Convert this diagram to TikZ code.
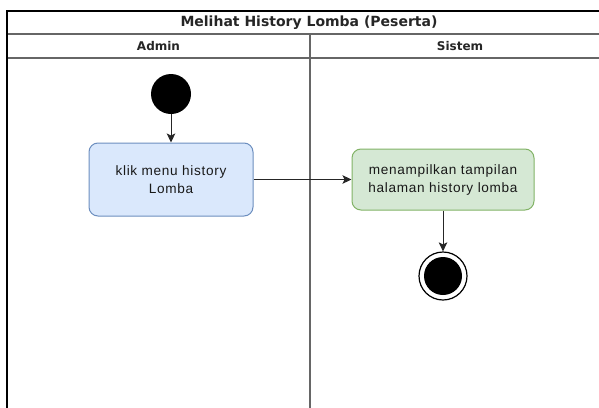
\documentclass[tikz,border=0pt]{standalone}
\usepackage{fontspec}
\setmainfont{Liberation Sans}
\newfontfamily\headfont{DejaVu Sans}
\newfontfamily\bodyfont{Liberation Sans}[LetterSpace=5]
\usetikzlibrary{arrows.meta}
\definecolor{bluefill}{HTML}{DAE8FC}
\definecolor{blueline}{HTML}{6C8EBF}
\definecolor{greenfill}{HTML}{D5E8D4}
\definecolor{greenline}{HTML}{82B366}
\tikzset{
  poolline/.style={draw=black, line width=1.2pt},
  laneline/.style={draw=black!60, line width=1.3pt},
  headtext/.style={font=\headfont\bfseries\fontsize{12}{14}\selectfont, text=black!85, inner sep=0pt},
  titletext/.style={font=\headfont\bfseries\fontsize{14}{16}\selectfont, text=black!85, inner sep=0pt},
  action/.style={rounded corners=9pt, line width=1pt, align=center,
    font=\bodyfont\fontsize{13.6}{18}\selectfont, text=black!90, inner sep=0pt},
  flow/.style={draw=black!85, line width=1pt, -{Stealth[length=9pt,width=8.5pt,inset=2pt]}},
}
\begin{document}
\begin{tikzpicture}[x=1pt,y=-1pt]
\useasboundingbox (0,0) rectangle (599,407);
\clip (0,0) rectangle (599,407);
\fill[white] (0,0) rectangle (599,407);
% swimlane frame
\draw[laneline] (7,34) -- (620,34);
\draw[laneline] (7,58) -- (620,58);
\draw[laneline] (310,34) -- (310,420);
\draw[poolline] (7,420) -- (7,11) -- (620,11);
% headings
\node[titletext] (title) at (309,22.5) {Melihat History Lomba (Peserta)};
\node[headtext] (adm) at (158.5,46) {Admin};
\node[headtext] (sys) at (460,46) {Sistem};
% activities
\node[circle, fill=black, minimum size=40pt, inner sep=0pt] (start) at (171,94) {};
\node[action, draw=blueline, fill=bluefill, minimum width=164pt, minimum height=73pt]
  (klik) at (171,179.5) {klik menu history\\Lomba};
\node[action, draw=greenline, fill=greenfill, minimum width=182pt, minimum height=61pt]
  (tampil) at (443,179.5) {menampilkan tampilan\\halaman history lomba};
\node[circle, draw=black, line width=1.2pt, minimum size=48pt, inner sep=0pt] (end) at (443,276) {};
\fill[black] (end.center) circle (19pt);
% flows
\draw[flow] (start) -- (klik);
\draw[flow] (klik) -- (tampil);
\draw[flow] (tampil) -- (end);
\end{tikzpicture}
\end{document}
